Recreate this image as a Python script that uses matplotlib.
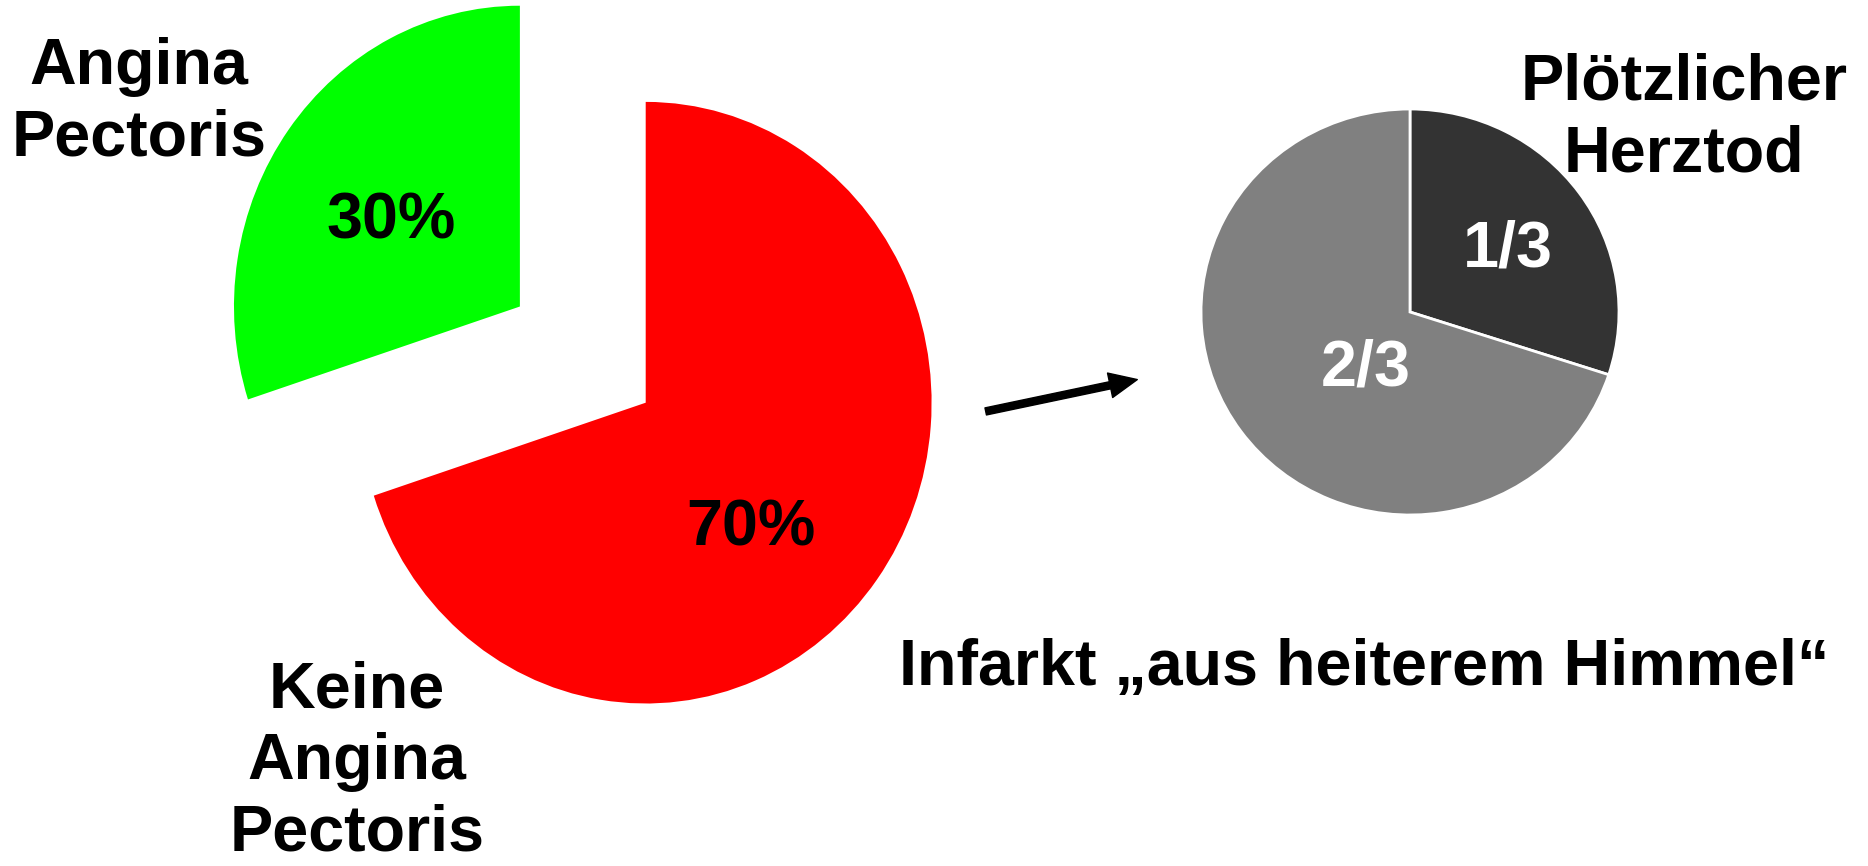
import matplotlib.pyplot as plt
from matplotlib.patches import FancyArrowPatch

plt.rcParams['font.family'] = ['Liberation Sans', 'DejaVu Sans']
plt.rcParams['font.weight'] = 'bold'

# Anteil Angina Pectoris vor Infarkt
angina_labels = ["Angina\nPectoris", "Keine\nAngina\nPectoris"]
angina_values = [30, 70]
angina_pct = ["30%", "70%"]
angina_colors = ["#00ff00", "#ff0000"]

# Infarkt ohne Vorwarnung
sudden_labels = ["1/3", "2/3"]
sudden_values = [30, 70]
sudden_colors = ["#333333", "#808080"]

W, H = 1868, 866
fig = plt.figure(figsize=(W / 100, H / 100), dpi=100)


def fx(x):
    return x / W


def fy(y):
    return 1 - y / H


# linker Kuchen (rot / gruen), leicht elliptisch wie im Original
cx, cy, rx, ry = 645.7, 402.7, 285.9, 300.8
lim = 1.6
ax1 = fig.add_axes([fx(cx - lim * rx), fy(cy + lim * ry), 2 * lim * rx / W, 2 * lim * ry / H])
ax1.pie(angina_values[::-1], colors=angina_colors[::-1], startangle=90, counterclock=False,
        explode=[0, 0.544], wedgeprops=dict(linewidth=0))
ax1.set_aspect('auto')
ax1.set_xlim(-lim, lim)
ax1.set_ylim(-lim, lim)
ax1.axis('off')

fs = 46.5
ls = 1.25
fig.text(fx(390.8), fy(221.5), angina_pct[0], ha='center', va='center', fontsize=fs)
fig.text(fx(750.5), fy(528.5), angina_pct[1], ha='center', va='center', fontsize=fs)
fig.text(fx(139), fy(102.5), angina_labels[0], ha='center', va='center', fontsize=fs, linespacing=ls)
fig.text(fx(357), fy(762), angina_labels[1], ha='center', va='center', fontsize=fs, linespacing=ls)

# rechter Kuchen (grau)
cx2, cy2, rx2, ry2 = 1410, 312, 209, 203
lim2 = 1.2
ax2 = fig.add_axes([fx(cx2 - lim2 * rx2), fy(cy2 + lim2 * ry2), 2 * lim2 * rx2 / W, 2 * lim2 * ry2 / H])
ax2.pie(sudden_values, colors=sudden_colors, startangle=90, counterclock=False,
        wedgeprops=dict(edgecolor='white', linewidth=2))
ax2.set_aspect('auto')
ax2.set_xlim(-lim2, lim2)
ax2.set_ylim(-lim2, lim2)
ax2.axis('off')

fig.text(fx(1508), fy(250), sudden_labels[0], ha='center', va='center', fontsize=fs, color='white')
fig.text(fx(1366), fy(369), sudden_labels[1], ha='center', va='center', fontsize=fs, color='white')
fig.text(fx(1684), fy(118.5), "Plötzlicher\nHerztod", ha='center', va='center', fontsize=fs, linespacing=ls)
fig.text(fx(1364), fy(668), "Infarkt \u201eaus heiterem Himmel\u201c", ha='center', va='center', fontsize=fs)

arrow = FancyArrowPatch((983, H - 412), (1140, H - 379), transform=None,
                        arrowstyle='simple,head_length=1.0,head_width=0.9,tail_width=0.26',
                        mutation_scale=20, color='black')
fig.patches.append(arrow)

fig.savefig('out.png', dpi=100, facecolor='white')
